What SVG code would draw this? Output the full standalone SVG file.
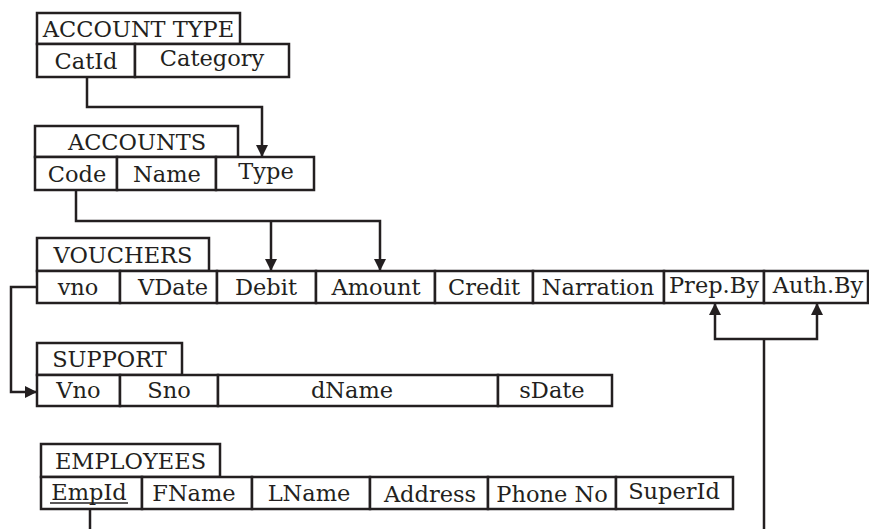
<svg xmlns="http://www.w3.org/2000/svg" width="869" height="529" viewBox="0 0 869 529">
<style>
  .cell { fill: #ffffff; stroke: #231f20; stroke-width: 2.5; }
  .t { font-family: "DejaVu Serif", "Liberation Serif", serif; font-size: 22.5px; fill: #231f20; text-anchor: middle; }
  .conn { fill: none; stroke: #231f20; stroke-width: 2.5; }
</style>
<defs>
  <marker id="arr" viewBox="0 0 12 12" refX="12" refY="6" markerWidth="13" markerHeight="12" markerUnits="userSpaceOnUse" orient="auto">
    <path d="M0,0 L12,6 L0,12 z" fill="#231f20"/>
  </marker>
</defs>
<rect width="869" height="529" fill="#ffffff"/>

<g id="connectors">
  <path class="conn" d="M87,77 V107 H262 V157" marker-end="url(#arr)"/>
  <path class="conn" d="M76,190 V221 H380 V271" marker-end="url(#arr)"/>
  <path class="conn" d="M271,221 V271" marker-end="url(#arr)"/>
  <path class="conn" d="M37,287 H11 V392 H37" marker-end="url(#arr)"/>
  <path class="conn" d="M90,509 V529"/>
  <path class="conn" d="M764,529 V339"/>
  <path class="conn" d="M764,339 H715 V303" marker-end="url(#arr)"/>
  <path class="conn" d="M764,339 H817 V303" marker-end="url(#arr)"/>
</g>

<g id="account-type">
  <rect class="cell" x="37" y="13" width="203" height="31"/>
  <text class="t" x="138.5" y="37">ACCOUNT TYPE</text>
  <rect class="cell" x="37" y="44" width="98" height="33"/>
  <text class="t" x="86" y="69">CatId</text>
  <rect class="cell" x="135" y="44" width="154" height="33"/>
  <text class="t" x="212" y="66">Category</text>
</g>

<g id="accounts">
  <rect class="cell" x="35" y="126" width="203" height="31"/>
  <text class="t" x="137" y="150">ACCOUNTS</text>
  <rect class="cell" x="35" y="157" width="82" height="33"/>
  <text class="t" x="77" y="182">Code</text>
  <rect class="cell" x="117" y="157" width="99" height="33"/>
  <text class="t" x="167" y="182">Name</text>
  <rect class="cell" x="216" y="157" width="98" height="33"/>
  <text class="t" x="266" y="179">Type</text>
</g>

<g id="vouchers">
  <rect class="cell" x="37" y="238" width="172" height="33"/>
  <text class="t" x="123" y="263">VOUCHERS</text>
  <rect class="cell" x="37" y="271" width="83" height="32"/>
  <text class="t" x="78" y="295">vno</text>
  <rect class="cell" x="120" y="271" width="97" height="32"/>
  <text class="t" x="173" y="295">VDate</text>
  <rect class="cell" x="217" y="271" width="99" height="32"/>
  <text class="t" x="266" y="295">Debit</text>
  <rect class="cell" x="316" y="271" width="119" height="32"/>
  <text class="t" x="376" y="295">Amount</text>
  <rect class="cell" x="435" y="271" width="98" height="32"/>
  <text class="t" x="484" y="295">Credit</text>
  <rect class="cell" x="533" y="271" width="131" height="32"/>
  <text class="t" x="598" y="295">Narration</text>
  <rect class="cell" x="664" y="271" width="100" height="32"/>
  <text class="t" x="714" y="293">Prep.By</text>
  <rect class="cell" x="764" y="271" width="104" height="32"/>
  <text class="t" x="818" y="293">Auth.By</text>
</g>

<g id="support">
  <rect class="cell" x="37" y="343" width="145" height="32"/>
  <text class="t" x="109.5" y="367">SUPPORT</text>
  <rect class="cell" x="37" y="375" width="83" height="31"/>
  <text class="t" x="78.5" y="398">Vno</text>
  <rect class="cell" x="120" y="375" width="98" height="31"/>
  <text class="t" x="169" y="398">Sno</text>
  <rect class="cell" x="218" y="375" width="280" height="31"/>
  <text class="t" x="352" y="398">dName</text>
  <rect class="cell" x="498" y="375" width="114" height="31"/>
  <text class="t" x="552" y="398">sDate</text>
</g>

<g id="employees">
  <rect class="cell" x="41" y="444" width="179" height="33"/>
  <text class="t" x="130.5" y="469">EMPLOYEES</text>
  <rect class="cell" x="41" y="477" width="101" height="32"/>
  <text class="t" x="89" y="500">EmpId</text>
  <line x1="50" y1="503" x2="128" y2="503" stroke="#231f20" stroke-width="1.6"/>
  <rect class="cell" x="142" y="477" width="110" height="32"/>
  <text class="t" x="194" y="501">FName</text>
  <rect class="cell" x="252" y="477" width="118" height="32"/>
  <text class="t" x="309" y="501">LName</text>
  <rect class="cell" x="370" y="477" width="118" height="32"/>
  <text class="t" x="430" y="502">Address</text>
  <rect class="cell" x="488" y="477" width="128" height="32"/>
  <text class="t" x="552" y="502">Phone No</text>
  <rect class="cell" x="616" y="477" width="117" height="32"/>
  <text class="t" x="674" y="499">SuperId</text>
</g>
</svg>
